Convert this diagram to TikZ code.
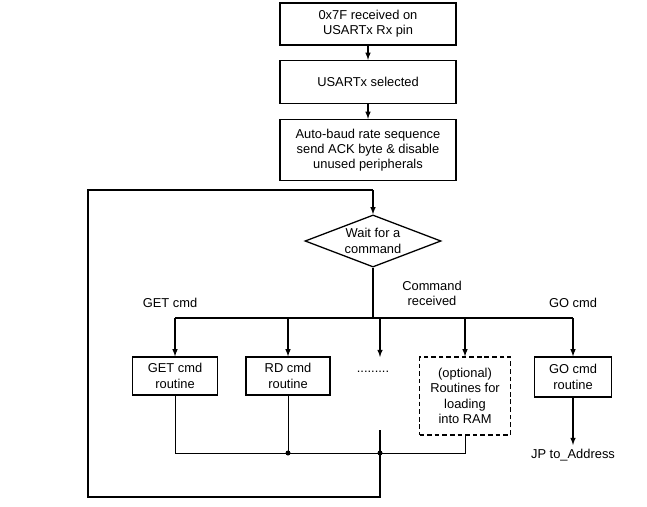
\documentclass[tikz,border=0pt]{standalone}
\usepackage{fontspec}
\setmainfont{Liberation Sans}
\usetikzlibrary{arrows,shapes.geometric}

\begin{document}
\begin{tikzpicture}[>=latex,line width=1.1pt,x=0.03cm,y=-0.03cm,
	box/.style={draw,align=center,inner sep=1pt,font=\fontsize{11}{13}\selectfont},
	dec/.style={draw,diamond,aspect=2.35,inner sep=1pt,align=center,font=\fontsize{11}{13}\selectfont},
	lab/.style={font=\fontsize{11}{13}\selectfont,align=center}]
\useasboundingbox (0,0) rectangle (647,507);

% Kette oben
\node[box,minimum width=5.28cm,minimum height=1.26cm] (rx) at (368,24) {0x7F received on\\USARTx Rx pin};
\node[box,minimum width=5.28cm,minimum height=1.29cm] (sel) at (368,82) {USARTx selected};
\node[box,minimum width=5.28cm,minimum height=1.83cm] (baud) at (368,150) {Auto-baud rate sequence\\send ACK byte \& disable\\unused peripherals};
\node[dec,minimum width=4.08cm] (wait) at (373,241) {Wait for a\\command};

\draw[->] (rx) -- (sel);
\draw[->] (sel) -- (baud);

% Routinen
\node[box,minimum width=2.55cm,minimum height=1.14cm] (get) at (175,376) {GET cmd\\routine};
\node[box,minimum width=2.52cm,minimum height=1.14cm] (rd) at (288,376) {RD cmd\\routine};
\node[box,dash pattern=on 4pt off 2.5pt,minimum width=2.73cm,minimum height=2.34cm] (ram) at (465,396) {(optional)\\Routines for\\loading\\into RAM};
\node[box,minimum width=2.31cm,minimum height=1.2cm] (go) at (573,377) {GO cmd\\routine};
\node[lab] (dots) at (373,372) {.........};

\coordinate (bar) at (373,318);
\coordinate (mid) at (380,357);
\coordinate (jp) at (573,445);
\node[lab,anchor=north] at (jp) {JP to\_Address};

\draw (wait.south) -- (bar);
\draw (get.north |- bar) -- (go.north |- bar);
\foreach \n in {get,rd,ram,go} \draw[->] (\n.north |- bar) -- (\n.north);
\draw[->] (mid |- bar) -- (mid);
\draw[->] (go) -- (jp);

\node[lab,anchor=south] at (170,312) {GET cmd};
\node[lab,anchor=south] at (432,310) {Command\\received};
\node[lab,anchor=south] at (573,312) {GO cmd};

% Rueckfuehrung
\coordinate (join) at (380,453);
\draw[thin] (get.south) |- (ram.south |- join) -- (ram.south);
\draw[thin] (rd.south) -- (rd.south |- join);
\draw (380,430) -- (380,497) -- (88,497) -- (88,190) -- (373,190);
\draw[->] (373,190) -- (wait.north);
\fill (rd.south |- join) circle[radius=2.5];
\fill (join) circle[radius=2.5];

\end{tikzpicture}
\end{document}
